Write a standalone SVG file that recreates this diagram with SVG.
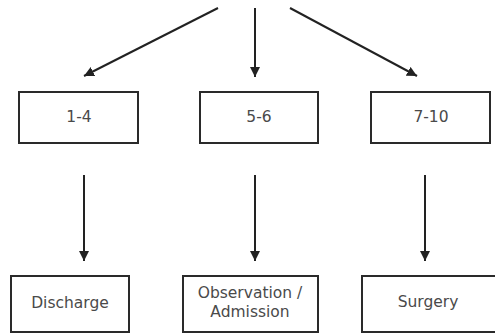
<svg xmlns="http://www.w3.org/2000/svg" width="495" height="334" viewBox="0 0 495 334">
  <style>
    .box { fill: #ffffff; stroke: #2a2a2a; stroke-width: 2; }
    .lbl { font-family: "DejaVu Sans", "Liberation Sans", sans-serif; font-size: 15.5px; fill: #4a4a4a; text-anchor: middle; dominant-baseline: central; }
    .edge { stroke: #222222; stroke-width: 2; fill: none; marker-end: url(#head); }
  </style>
  <defs>
    <marker id="head" viewBox="0 0 10 10" refX="10" refY="5" markerWidth="5" markerHeight="5" orient="auto" markerUnits="strokeWidth">
      <path d="M0,0 L10,5 L0,10 z" fill="#222222"/>
    </marker>
  </defs>
  <rect width="495" height="334" fill="#ffffff"/>

  <g id="connectors">
    <line class="edge" x1="218" y1="8" x2="84" y2="76"/>
    <line class="edge" x1="255" y1="8" x2="255" y2="77"/>
    <line class="edge" x1="290" y1="8" x2="417" y2="76"/>
    <line class="edge" x1="84" y1="175" x2="84" y2="261"/>
    <line class="edge" x1="255" y1="175" x2="255" y2="261"/>
    <line class="edge" x1="425" y1="175" x2="425" y2="261"/>
  </g>

  <g id="score-1-4">
    <rect class="box" x="19" y="92" width="119" height="51"/>
    <text class="lbl" x="79" y="117">1-4</text>
  </g>
  <g id="score-5-6">
    <rect class="box" x="200" y="92" width="118" height="51"/>
    <text class="lbl" x="259" y="117">5-6</text>
  </g>
  <g id="score-7-10">
    <rect class="box" x="371" y="92" width="119" height="51"/>
    <text class="lbl" x="431" y="117">7-10</text>
  </g>

  <g id="discharge">
    <rect class="box" x="11" y="276" width="118" height="56"/>
    <text class="lbl" x="70" y="303">Discharge</text>
  </g>
  <g id="observation">
    <rect class="box" x="183" y="276" width="135" height="56"/>
    <text class="lbl" x="250" y="293">Observation /</text>
    <text class="lbl" x="250" y="312">Admission</text>
  </g>
  <g id="surgery">
    <rect class="box" x="362" y="276" width="140" height="56"/>
    <text class="lbl" x="428" y="302">Surgery</text>
  </g>
</svg>
